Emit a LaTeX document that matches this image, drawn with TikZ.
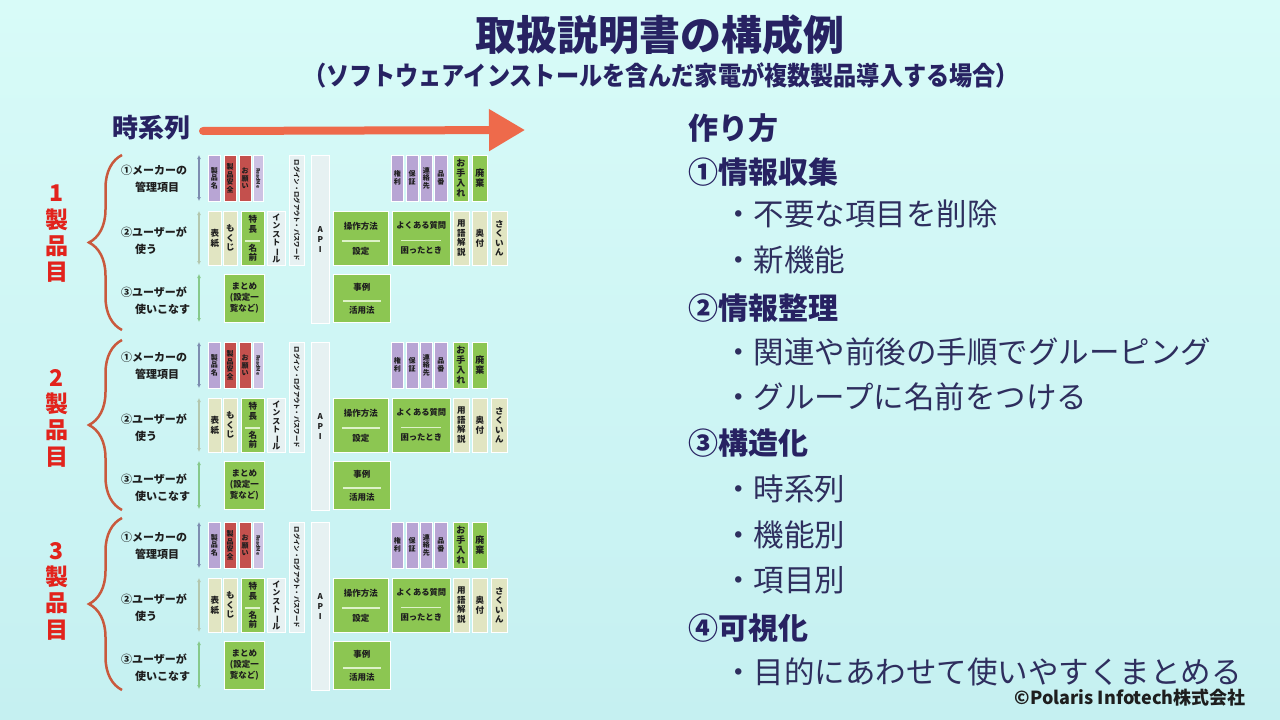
\documentclass[tikz,border=0pt]{standalone}
\usepackage{fontspec}
\setmainfont{Noto Sans CJK JP}
\usetikzlibrary{arrows.meta,decorations.pathreplacing}
\definecolor{bgtop}{HTML}{D8FBF8}
\definecolor{bgbot}{HTML}{C5F0F1}
\definecolor{navy}{HTML}{272262}
\definecolor{ink}{HTML}{2E2E5E}
\definecolor{arrred}{HTML}{EE6A4B}
\definecolor{bracec}{HTML}{C9593D}
\definecolor{labred}{HTML}{E2231C}
\definecolor{pur}{HTML}{B8A5D4}
\definecolor{lpur}{HTML}{CDC2E3}
\definecolor{rd}{HTML}{C4504D}
\definecolor{crm}{HTML}{E1E5C2}
\definecolor{grn}{HTML}{8CC652}
\definecolor{wht}{HTML}{E6F1F2}
\definecolor{divc}{HTML}{DDF2C8}
\definecolor{boxtxt}{HTML}{1E1E1E}
\definecolor{arwa}{HTML}{7D8DB0}
\definecolor{arwb}{HTML}{B3C7AE}
\definecolor{arwc}{HTML}{86C98A}
\newcommand\bx[7]{\node[box,#2,anchor=north west,minimum width=#5,minimum height=#6] (#1) at (#3,\yo+#4) {#7};}
\newcommand\dv[1]{\textcolor{divc}{\rule{#1pt}{1.2pt}}}
\newcommand\vbar{\rotatebox[origin=c]{-90}{ー}}
\begin{document}
\begin{tikzpicture}[x=1pt,y=-1pt,
  box/.style={draw=white,line width=0.6pt,inner sep=0pt,align=center,text=boxtxt,font=\bfseries\fontsize{8.5}{9.5}\selectfont},
  sm/.style={font=\bfseries\fontsize{7}{7.8}\selectfont},
  md/.style={font=\bfseries\fontsize{9}{10}\selectfont},
  rowlab/.style={anchor=west,inner sep=0pt,text=boxtxt,font=\bfseries\fontsize{11}{11}\selectfont},
  rhead/.style={anchor=west,inner sep=0pt,text=navy,font=\bfseries\fontsize{30}{30}\selectfont},
  rbul/.style={anchor=west,inner sep=0pt,text=ink,font=\fontsize{30.5}{30}\selectfont},
  varr/.style={line width=1.1pt,{Latex[length=4pt,width=4pt]}-{Latex[length=4pt,width=4pt]}},
  grplab/.style={align=center,inner sep=0pt,text=labred,font=\bfseries\fontsize{23}{26.3}\selectfont},
  bracestyle/.style={draw=bracec,line width=2.5pt,decorate,decoration={brace,amplitude=33pt}}]
\useasboundingbox (0,0) rectangle (1280,720);
\shade[top color=bgtop,bottom color=bgbot] (0,0) rectangle (1280,720);

% title
\node[text=navy,font=\bfseries\fontsize{41}{41}\selectfont] (title) at (660,35) {取扱説明書の構成例};
\node[text=navy,font=\bfseries\fontsize{26}{26}\selectfont] (subtitle) at (661,75) {\scalebox{0.89}[1]{（ソフトウェアインストールを含んだ家電が複数製品導入する場合）}};

% time arrow
\node[anchor=west,inner sep=0pt,text=navy,font=\bfseries\fontsize{26}{26}\selectfont] (tlabel) at (112,128) {時系列};
\coordinate (ta) at (203,131);
\coordinate (tb) at (525,130);
\draw[arrred,line width=8pt,line cap=round,-{Triangle[length=36pt,width=40pt]}] (ta) -- (tb);

% right column
\node[rhead] (h0) at (688,128) {作り方};
\node[rhead] (h1) at (688,172) {①情報収集};
\node[rbul] (b11) at (723,214) {・不要な項目を削除};
\node[rbul] (b12) at (723,260) {・新機能};
\node[rhead] (h2) at (688,308) {②情報整理};
\node[rbul] (b21) at (723,352) {・関連や前後の手順でグルーピング};
\node[rbul] (b22) at (723,397) {・グループに名前をつける};
\node[rhead] (h3) at (688,443) {③構造化};
\node[rbul] (b31) at (723,489) {・時系列};
\node[rbul] (b32) at (723,535) {・機能別};
\node[rbul] (b33) at (723,580) {・項目別};
\node[rhead] (h4) at (688,628) {④可視化};
\node[rbul] (b41) at (723,672) {・目的にあわせて使いやすくまとめる};
\node[anchor=east,inner sep=0pt,text=boxtxt,font=\bfseries\fontsize{18}{18}\selectfont] (copy) at (1246,698) {©Polaris Infotech株式会社};

% groups
\foreach \g/\yo/\lc/\bt/\bb in {1/153/234/155/330,2/340/418/340/510,3/520/591/518/690}{
  \node[grplab] (n\g) at (57,\lc) {\g\\製\\品\\目};
  \coordinate (bt\g) at (122,\bt);
  \coordinate (bb\g) at (122,\bb);
  \draw[bracestyle] (bb\g) -- (bt\g);
  % row labels
  \node[rowlab] (la\g) at (121,\yo+17) {①メーカーの};
  \node[rowlab] (lb\g) at (135,\yo+34) {管理項目};
  \node[rowlab] (lc\g) at (121,\yo+79) {②ユーザーが};
  \node[rowlab] (ld\g) at (135,\yo+96) {使う};
  \node[rowlab] (le\g) at (121,\yo+139) {③ユーザーが};
  \node[rowlab] (lf\g) at (135,\yo+156) {使いこなす};
  % vertical arrows
  \coordinate (va\g) at (199,\yo+2);   \coordinate (vb\g) at (199,\yo+48);
  \coordinate (vc\g) at (199,\yo+58);  \coordinate (vd\g) at (199,\yo+112);
  \coordinate (ve\g) at (199,\yo+121); \coordinate (vf\g) at (199,\yo+169);
  \draw[varr,arwa] (va\g) -- (vb\g);
  \draw[varr,arwb] (vc\g) -- (vd\g);
  \draw[varr,arwc] (ve\g) -- (vf\g);
  % row 1
  \bx{p\g a}{fill=pur,sm}{208}{2}{12}{46}{製\\品\\名}
  \bx{p\g b}{fill=rd,sm}{224}{2}{11.5}{46}{製\\品\\安\\全}
  \bx{p\g c}{fill=rd,sm}{239}{2}{11.5}{46}{お\\願\\い}
  \bx{p\g d}{fill=lpur,font=\bfseries\fontsize{5}{5}\selectfont}{253}{2}{10}{46}{\rotatebox{-90}{ReadMe}}
  \bx{p\g e}{fill=pur,sm}{391}{2}{12}{46}{\\[-2pt]権\\利}
  \bx{p\g f}{fill=pur,sm}{406}{2}{11.5}{46}{\\[-2pt]保\\証}
  \bx{p\g g}{fill=pur,sm}{420}{2}{12}{46}{連\\絡\\先}
  \bx{p\g h}{fill=pur,sm}{434}{2}{13}{46}{\\[-2pt]品\\番}
  \bx{p\g i}{fill=grn,md}{453}{2}{15}{46}{お\\手\\入\\れ}
  \bx{p\g j}{fill=grn,md}{472}{2}{15}{46}{廃\\棄}
  % tall boxes
  \bx{q\g a}{fill=wht,font=\bfseries\fontsize{6.3}{6.3}\selectfont}{289}{2}{15}{110}{\rotatebox{-90}{ログイン・ログアウト・パスワード}}
  \bx{q\g b}{fill=wht,font=\bfseries\fontsize{8}{10}\selectfont}{311}{2}{18}{168}{A\\P\\I}
  % row 2
  \bx{r\g a}{fill=crm}{208}{58}{13}{54}{表\\紙}
  \bx{r\g b}{fill=crm}{223}{58}{14}{54}{も\\く\\じ}
  \bx{r\g c}{fill=grn}{241}{58}{23}{54}{特\\長\\\dv{15}\\名\\前}
  \bx{r\g d}{fill=wht,font=\bfseries\fontsize{8}{8.5}\selectfont}{267}{58}{18}{54}{イ\\ン\\ス\\ト\\\vbar\\ル}
  \bx{r\g e}{fill=grn,font=\bfseries\fontsize{8.5}{12.5}\selectfont}{333}{58}{55}{54}{操作方法\\\dv{38}\\設定}
  \bx{r\g f}{fill=grn,font=\bfseries\fontsize{8.3}{12.5}\selectfont}{392}{58}{58}{54}{よくある質問\\\dv{40}\\困ったとき}
  \bx{r\g g}{fill=crm}{453}{58}{16}{54}{用\\語\\解\\説}
  \bx{r\g h}{fill=crm}{472}{58}{15}{54}{奥\\付}
  \bx{r\g i}{fill=crm}{491}{58}{16}{54}{さ\\く\\い\\ん}
  % row 3
  \bx{s\g a}{fill=grn,font=\bfseries\fontsize{8.5}{11}\selectfont}{224}{121}{40}{48}{まとめ\\(設定一\\覧など)}
  \bx{s\g b}{fill=grn,font=\bfseries\fontsize{8.5}{11.5}\selectfont}{333}{121}{57}{48}{事例\\\dv{38}\\活用法}
}
\end{tikzpicture}
\end{document}
